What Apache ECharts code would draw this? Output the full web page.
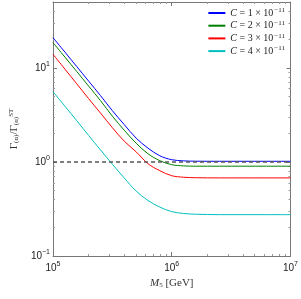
<!DOCTYPE html>
<html><head><meta charset="utf-8">
<script src="https://cdn.jsdelivr.net/npm/echarts@6/dist/echarts.min.js"></script>
<style>html,body{margin:0;padding:0;background:#fff}#c{width:301px;height:299px}</style>
</head><body><div id="c"></div>
<script>
// M5 values (GeV), sampled along the curves
const xValues = [100000, 125893, 158489, 199526, 251189, 316228, 398107, 501187, 630957, 794328, 1000000, 1258925, 1584893, 2511886, 3981072, 6309573, 10000000];
const legendNames = ['C = 1 × 10−11', 'C = 2 × 10−11', 'C = 3 × 10−11', 'C = 4 × 10−11'];
const seriesC1 = [20.9, 14.7, 10.3, 7.22, 5.06, 3.50, 2.49, 1.79, 1.40, 1.16, 1.055, 1.025, 1.017, 1.015, 1.015, 1.015, 1.015];
const seriesC2 = [18.5, 13.0, 9.12, 6.39, 4.48, 3.06, 2.17, 1.58, 1.22, 1.03, 0.933, 0.907, 0.90, 0.90, 0.90, 0.90, 0.90];
const seriesC3 = [13.9, 9.69, 6.76, 4.70, 3.30, 2.31, 1.66, 1.28, 0.957, 0.806, 0.713, 0.687, 0.679, 0.676, 0.676, 0.676, 0.676];
const seriesC4 = [5.58, 3.91, 2.74, 1.91, 1.34, 0.944, 0.675, 0.49, 0.389, 0.331, 0.296, 0.283, 0.278, 0.275, 0.275, 0.275, 0.275];
const referenceLine = [[100000, 1], [10000000, 1]];
const xRange = [100000, 10000000];
const yRange = [0.1, 50];

const colors = ['#0000ff', '#008000', '#ff0000', '#00bfbf'];
const allSeries = [seriesC1, seriesC2, seriesC3, seriesC4];
const serif = '"Liberation Serif", "DejaVu Serif", serif';
const sans = '"Liberation Sans", Arial, sans-serif';

function powLabel(v) {
  const l = Math.log10(v);
  const e = Math.round(l);
  if (Math.abs(l - e) > 1e-6) return '';
  return '{b|10}{s|' + String(e).replace('-', '−') + '}';
}
const tickRich = {
  b: {fontSize: 10, fontFamily: sans, color: '#222'},
  s: {fontSize: 7, fontFamily: sans, color: '#222', padding: [0, 0, 7, 0]}
};

const chart = echarts.init(document.getElementById('c'), null, {renderer: 'canvas'});
const series = allSeries.map((d, i) => ({
  name: legendNames[i],
  type: 'line',
  data: xValues.map((x, j) => [x, d[j]]),
  showSymbol: false,
  smooth: 0.35,
  lineStyle: {color: colors[i], width: 1},
  itemStyle: {color: colors[i]},
  z: 3
}));
series.push({
  type: 'line', data: referenceLine, showSymbol: false, silent: true,
  lineStyle: {color: '#555', width: 1.5, type: [4, 3]}, z: 4
});

const axisCommon = {
  type: 'log', logBase: 10,
  axisLine: {show: true, lineStyle: {color: '#777', width: 1}},
  axisTick: {show: true, inside: true, length: 4, lineStyle: {color: '#777'}},
  minorTick: {show: true, splitNumber: 9, length: 2, lineStyle: {color: '#999'}},
  splitLine: {show: false}
};

chart.setOption({
  animation: false,
  grid: {left: 34, right: 8, top: 2, bottom: 43},
  legend: {
    orient: 'vertical', right: 14, top: 5, itemWidth: 17, itemHeight: 2,
    icon: 'rect', itemGap: 1.7, padding: [2, 2, 2, 2],
    data: legendNames.map((n, i) => ({name: n, itemStyle: {color: colors[i]}})),
    formatter: n => '{i|C}{t| = ' + n.slice(4, 8) + '10}{s|' + n.slice(10) + '}',
    textStyle: {
      fontSize: 10, fontFamily: serif, color: '#222', lineHeight: 10,
      rich: {
        i: {fontSize: 10, fontFamily: serif, fontStyle: 'italic', color: '#222'},
        t: {fontSize: 10, fontFamily: serif, color: '#222'},
        s: {fontSize: 7, fontFamily: serif, color: '#222', padding: [0, 0, 5, 1]}
      }
    }
  },
  xAxis: [
    Object.assign({}, axisCommon, {
      min: xRange[0], max: xRange[1], position: 'bottom',
      name: '{i|M}{sub|5} [GeV]', nameLocation: 'middle', nameGap: 14,
      nameTextStyle: {
        fontSize: 11, fontFamily: serif, color: '#333',
        rich: {
          i: {fontSize: 11, fontFamily: serif, fontStyle: 'italic', color: '#333'},
          sub: {fontSize: 7, fontFamily: serif, color: '#333', padding: [4, 0, 0, 0]}
        }
      },
      axisLabel: {formatter: powLabel, rich: tickRich, margin: 5}
    }),
    Object.assign({}, axisCommon, {
      min: xRange[0], max: xRange[1], position: 'top',
      axisLabel: {show: false}
    })
  ],
  yAxis: [
    Object.assign({}, axisCommon, {
      min: yRange[0], max: yRange[1], position: 'left',
      name: 'Γ{sub|(α)}/Γ{sub|(α)}{sup|ST}', nameLocation: 'middle', nameGap: 26,
      nameTextStyle: {
        fontSize: 11, fontFamily: serif, color: '#333',
        rich: {
          sub: {fontSize: 7, fontFamily: serif, color: '#333', padding: [4, 0, 0, 0]},
          sup: {fontSize: 7, fontFamily: serif, color: '#333', padding: [0, 0, 6, 0]}
        }
      },
      axisLabel: {formatter: powLabel, rich: tickRich, margin: 3}
    }),
    Object.assign({}, axisCommon, {
      min: yRange[0], max: yRange[1], position: 'right',
      axisLabel: {show: false}
    })
  ],
  series: series
});
</script></body></html>
